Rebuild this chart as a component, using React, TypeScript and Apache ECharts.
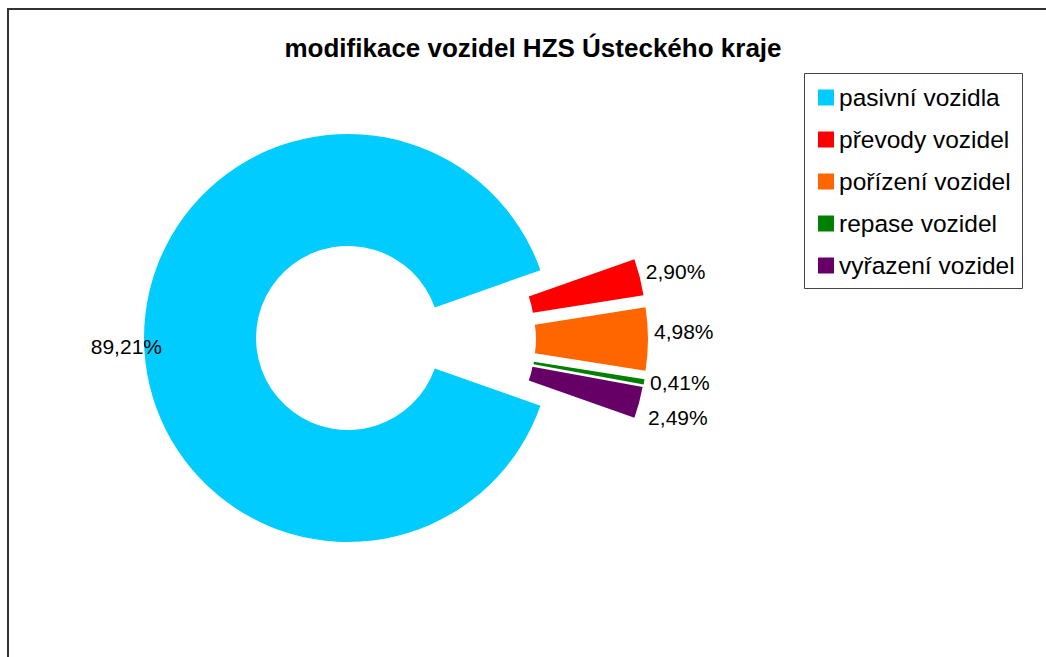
import React, { useEffect, useRef } from 'react';
import * as echarts from 'echarts';

const chartTitle = 'modifikace vozidel HZS Ústeckého kraje';
const categories = ['pasivní vozidla', 'převody vozidel', 'pořízení vozidel', 'repase vozidel', 'vyřazení vozidel'];
const shares = [89.21, 2.9, 4.98, 0.41, 2.49];
const colors = ['#00CCFF', '#FF0000', '#FF6600', '#008000', '#660066'];

// layout per slice (exploded slices drawn around their own shifted centre)
const sliceCenters = [[348, 338], [442, 327], [444, 339], [443, 347.5], [442, 350]];
const labelDistances = [-18, 6, 6, 6, 9];
const labelShiftY = [8, -5, -7, 1, 15];

const FONT = "'Liberation Sans', Arial, sans-serif";
const fmt = (v: number) => v.toFixed(2).replace('.', ',') + '%';

export default function App() {
  const ref = useRef<HTMLDivElement>(null);
  useEffect(() => {
    if (!ref.current) return;
    const chart = echarts.init(ref.current, undefined, { renderer: 'svg' });
    const series = categories.map((_, i) => ({
      type: 'pie',
      center: sliceCenters[i],
      radius: [92, 204],
      startAngle: -19.4,
      clockwise: true,
      avoidLabelOverlap: false,
      silent: true,
      emphasis: { disabled: true },
      labelLayout: { hideOverlap: false, dy: labelShiftY[i] },
      label: { show: false },
      labelLine: { show: false, length: 0, length2: 0 },
      data: categories.map((name, j) => ({
        name,
        value: shares[j],
        itemStyle: { color: colors[j], opacity: j === i ? 1 : 0 },
        label:
          j === i
            ? {
                show: true,
                position: 'outside',
                formatter: fmt(shares[j]),
                color: '#000',
                fontSize: 21,
                fontFamily: FONT,
                distanceToLabelLine: labelDistances[i],
              }
            : { show: false },
        labelLine: { show: false, length: 0, length2: 0 },
      })),
    }));
    chart.setOption({
      animation: false,
      backgroundColor: '#fff',
      title: {
        text: chartTitle,
        left: 533,
        top: 35,
        textAlign: 'center',
        padding: 0,
        textStyle: { fontSize: 26, fontWeight: 'bold', color: '#000', fontFamily: FONT },
      },
      legend: {
        orient: 'vertical',
        left: 818,
        top: 85,
        padding: 0,
        itemWidth: 16,
        itemHeight: 16,
        itemGap: 17,
        icon: 'rect',
        selectedMode: false,
        textStyle: { fontSize: 24.5, lineHeight: 24, color: '#000', fontFamily: FONT },
        data: categories.map((name, i) => ({ name, itemStyle: { color: colors[i], opacity: 1 } })),
      },
      graphic: [
        {
          type: 'rect',
          shape: { x: 8, y: 9, width: 1100, height: 700 },
          style: { fill: 'none', stroke: '#333', lineWidth: 2 },
          silent: true,
          z: 100,
        },
        {
          type: 'rect',
          shape: { x: 804.5, y: 73.5, width: 218, height: 215 },
          style: { fill: 'none', stroke: '#444', lineWidth: 1 },
          silent: true,
        },
      ],
      series,
    });
    return () => chart.dispose();
  }, []);
  return (
    <div
      ref={ref}
      style={{ position: 'fixed', left: 0, top: 0, width: 1046, height: 657 }}
    />
  );
}
